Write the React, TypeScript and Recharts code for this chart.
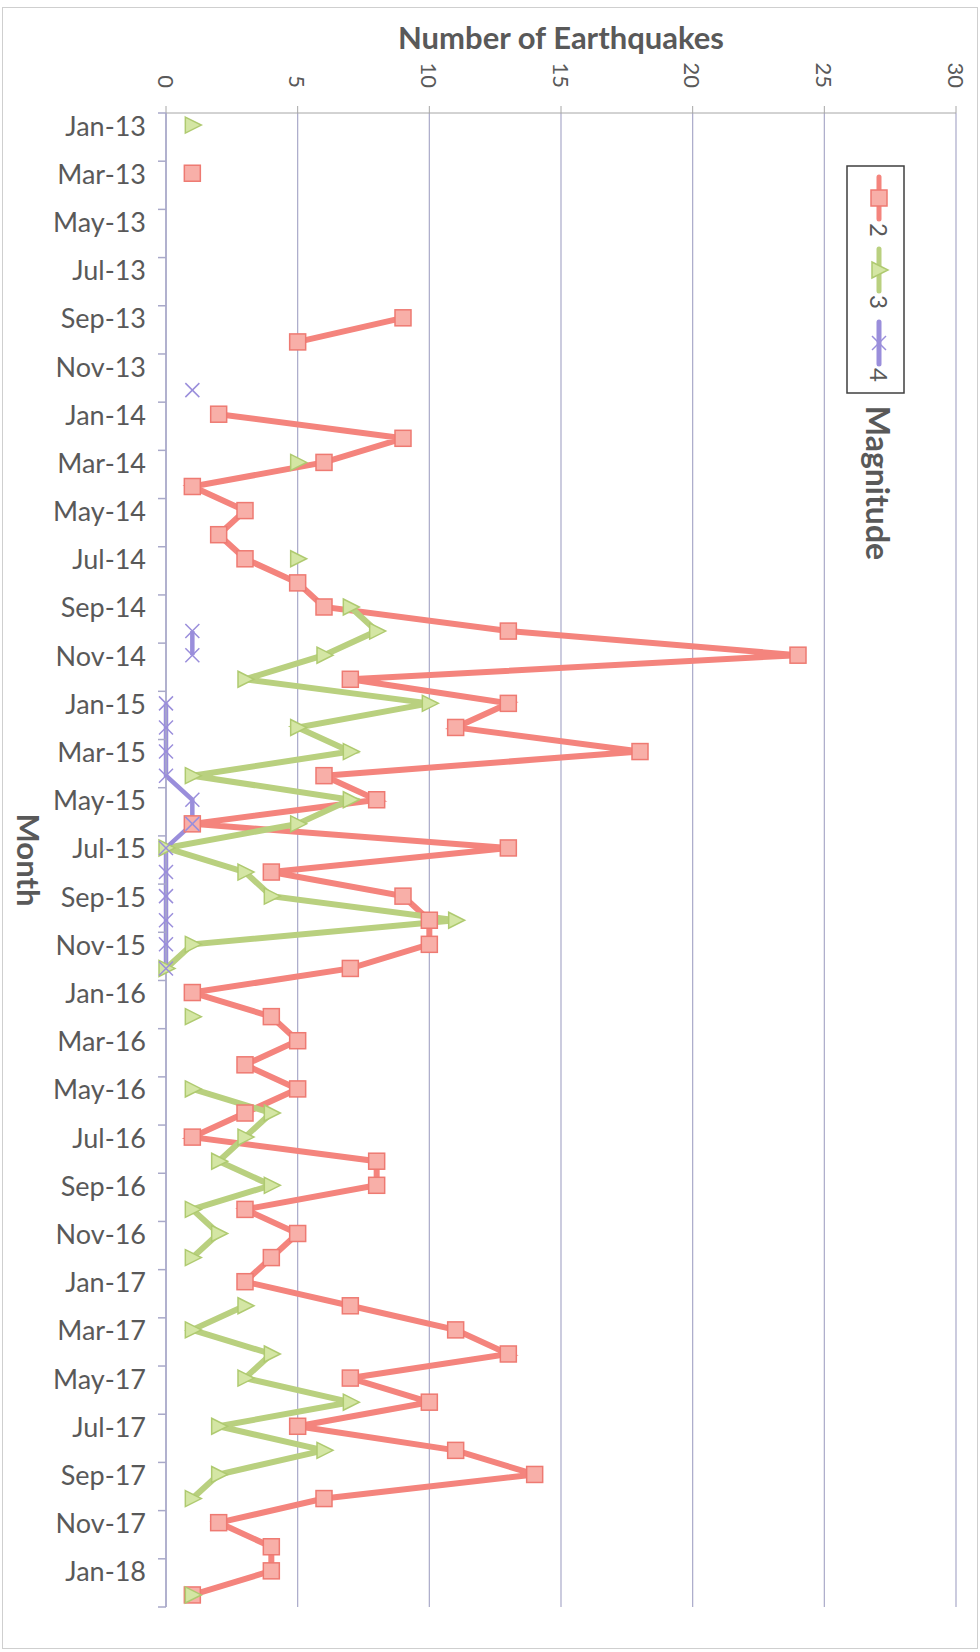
import { CartesianGrid, Legend, Line, LineChart, XAxis, YAxis } from "recharts";

const months = [
  "Jan-13", "Feb-13", "Mar-13", "Apr-13", "May-13", "Jun-13", "Jul-13", "Aug-13", "Sep-13", "Oct-13", "Nov-13", "Dec-13",
  "Jan-14", "Feb-14", "Mar-14", "Apr-14", "May-14", "Jun-14", "Jul-14", "Aug-14", "Sep-14", "Oct-14", "Nov-14", "Dec-14",
  "Jan-15", "Feb-15", "Mar-15", "Apr-15", "May-15", "Jun-15", "Jul-15", "Aug-15", "Sep-15", "Oct-15", "Nov-15", "Dec-15",
  "Jan-16", "Feb-16", "Mar-16", "Apr-16", "May-16", "Jun-16", "Jul-16", "Aug-16", "Sep-16", "Oct-16", "Nov-16", "Dec-16",
  "Jan-17", "Feb-17", "Mar-17", "Apr-17", "May-17", "Jun-17", "Jul-17", "Aug-17", "Sep-17", "Oct-17", "Nov-17", "Dec-17",
  "Jan-18", "Feb-18"
];

// magnitude 2
const mag2 = [
  null, null, 1, null, null, null, null, null, 9, 5, null, null,
  2, 9, 6, 1, 3, 2, 3, 5, 6, 13, 24, 7,
  13, 11, 18, 6, 8, 1, 13, 4, 9, 10, 10, 7,
  1, 4, 5, 3, 5, 3, 1, 8, 8, 3, 5, 4,
  3, 7, 11, 13, 7, 10, 5, 11, 14, 6, 2, 4,
  4, 1
];

// magnitude 3
const mag3 = [
  1, null, null, null, null, null, null, null, null, null, null, null,
  null, null, 5, null, null, null, 5, null, 7, 8, 6, 3,
  10, 5, 7, 1, 7, 5, 0, 3, 4, 11, 1, 0,
  null, 1, null, null, 1, 4, 3, 2, 4, 1, 2, 1,
  null, 3, 1, 4, 3, 7, 2, 6, 2, 1, null, null,
  null, 1
];

// magnitude 4
const mag4 = [
  null, null, null, null, null, null, null, null, null, null, null, 1,
  null, null, null, null, null, null, null, null, null, 1, 1, null,
  0, 0, 0, 0, 1, 1, 0, 0, 0, 0, 0, 0,
  null, null, null, null, null, null, null, null, null, null, null, null,
  null, null, null, null, null, null, null, null, null, null, null, null,
  null, null
];

const xTicks = [0, 5, 10, 15, 20, 25, 30];

const W = 980;
const H = 1652;
const MARGIN = { top: 63, right: 24, bottom: 45, left: 16 };
const X_AXIS_H = 50;
const Y_TICK_GAP = 20;
const BAND = (H - MARGIN.top - X_AXIS_H - MARGIN.bottom) / months.length;

const FONT = "Lato, 'Open Sans', sans-serif";
const TEXT = "#595959";
const GRID = "#A9A9C9";

const RED = "#F4847D";
const GREEN = "#B9D07F";
const PURPLE = "#9A8EDB";

function square(cx: number, cy: number, key?: string) {
  return <rect key={key} x={cx - 8} y={cy - 8} width={16} height={16} fill="#F8AFA8" stroke="#EE7A72" strokeWidth={1.5} />;
}

function triangle(cx: number, cy: number, key?: string) {
  return (
    <polygon
      key={key}
      points={`${cx - 7},${cy - 8} ${cx + 9},${cy} ${cx - 7},${cy + 8}`}
      fill="#D4E6A4"
      stroke="#AFCA70"
      strokeWidth={1.5}
    />
  );
}

function cross(cx: number, cy: number, key?: string) {
  return (
    <g key={key} stroke={PURPLE} strokeWidth={1.5}>
      <line x1={cx - 7} y1={cy - 7} x2={cx + 7} y2={cy + 7} />
      <line x1={cx - 7} y1={cy + 7} x2={cx + 7} y2={cy - 7} />
    </g>
  );
}

const series = [
  { id: "m2", name: "2", values: mag2, color: RED, width: 6, shape: square },
  { id: "m3", name: "3", values: mag3, color: GREEN, width: 6, shape: triangle },
  { id: "m4", name: "4", values: mag4, color: PURPLE, width: 4.5, shape: cross }
];

// vertical layout drops empty months, so every unbroken run gets its own line
function runsOf(values: (number | null)[]) {
  const runs: { start: number; end: number }[] = [];
  let cur: { start: number; end: number } | null = null;
  values.forEach((v, i) => {
    if (v == null) {
      cur = null;
    } else if (cur) {
      cur.end = i;
    } else {
      cur = { start: i, end: i };
      runs.push(cur);
    }
  });
  return runs;
}

const segments = series.flatMap((s) =>
  runsOf(s.values).map((r, k) => ({ ...s, key: `${s.id}_${k}`, start: r.start, end: r.end }))
);

const data = months.map((month, i) => {
  const row: Record<string, string | number | null> = { month };
  segments.forEach((seg) => {
    row[seg.key] = i >= seg.start && i <= seg.end ? seg.values[i] : null;
  });
  return row;
});

function makeDot(shape: (cx: number, cy: number, key?: string) => any, prefix: string) {
  return (props: any) => {
    const { cx, cy, value, index } = props;
    const key = `${prefix}${index}`;
    if (value == null || cx == null || cy == null) return <g key={key} />;
    return shape(cx, cy, key);
  };
}

function XTick(props: any) {
  const { x, y, payload } = props;
  return (
    <text
      x={x}
      y={y}
      transform={`rotate(90 ${x} ${y})`}
      textAnchor="end"
      dominantBaseline="central"
      fontFamily={FONT}
      fontSize={22}
      fill={TEXT}
    >
      {payload.value}
    </text>
  );
}

function YTick(props: any) {
  const { x, y, payload } = props;
  const axisX = x + Y_TICK_GAP;
  const top = y - BAND / 2;
  const isLast = payload.value === months[months.length - 2];
  return (
    <g>
      <line x1={axisX - 8} x2={axisX} y1={top} y2={top} stroke={GRID} strokeWidth={1.5} />
      {isLast && (
        <line x1={axisX - 8} x2={axisX} y1={top + BAND * 2} y2={top + BAND * 2} stroke={GRID} strokeWidth={1.5} />
      )}
      <text x={x} y={y} textAnchor="end" dominantBaseline="central" fontFamily={FONT} fontSize={27} fill={TEXT}>
        {payload.value}
      </text>
    </g>
  );
}

function TitleLabel(props: any) {
  const vb = props.viewBox;
  return (
    <text
      x={vb.x + vb.width / 2}
      y={vb.y - 26}
      textAnchor="middle"
      dominantBaseline="central"
      fontFamily={FONT}
      fontWeight={700}
      fontSize={31}
      fill={TEXT}
    >
      Number of Earthquakes
    </text>
  );
}

function MonthLabel(props: any) {
  const vb = props.viewBox;
  const cx = vb.x + 13;
  const cy = vb.y + vb.height / 2;
  return (
    <text
      x={cx}
      y={cy}
      transform={`rotate(90 ${cx} ${cy})`}
      textAnchor="middle"
      dominantBaseline="central"
      fontFamily={FONT}
      fontWeight={700}
      fontSize={31}
      fill={TEXT}
    >
      Month
    </text>
  );
}

const legendY = [33, 105, 178];

function MagnitudeLegend() {
  const cx = 33;
  return (
    <svg width={62} height={410}>
      <rect x={1} y={1} width={57} height={227} fill="#fff" stroke="#3F3F3F" strokeWidth={1.5} />
      {series.map((s, i) => (
        <g key={s.id}>
          <line x1={cx} x2={cx} y1={legendY[i] - 21} y2={legendY[i] + 21} stroke={s.color} strokeWidth={5} strokeLinecap="round" />
          {s.shape(cx, legendY[i])}
          <text
            x={cx}
            y={legendY[i] + 32}
            transform={`rotate(90 ${cx} ${legendY[i] + 32})`}
            textAnchor="middle"
            dominantBaseline="central"
            fontFamily={FONT}
            fontSize={24}
            fill={TEXT}
          >
            {s.name}
          </text>
        </g>
      ))}
      <text
        x={32}
        y={318}
        transform="rotate(90 32 318)"
        textAnchor="middle"
        dominantBaseline="central"
        fontFamily={FONT}
        fontWeight={700}
        fontSize={32}
        fill={TEXT}
      >
        Magnitude
      </text>
    </svg>
  );
}

export default function App() {
  return (
    <div style={{ position: "absolute", left: 0, top: 0, width: W, height: H, background: "#fff" }}>
      <div
        style={{
          position: "absolute",
          left: 2,
          top: 7,
          width: 974,
          height: 1640,
          border: "1px solid #CFCFCF"
        }}
      />
      <div style={{ position: "absolute", left: 0, top: 0 }}>
        <LineChart width={W} height={H} data={data} layout="vertical" margin={MARGIN}>
          <CartesianGrid horizontal={false} vertical={true} stroke={GRID} strokeWidth={1.2} />
          <XAxis
            type="number"
            orientation="top"
            domain={[0, 30]}
            ticks={xTicks}
            height={X_AXIS_H}
            stroke="#A6A6A6"
            tickSize={7}
            tickMargin={18}
            tick={<XTick />}
            label={{ content: TitleLabel }}
          />
          <YAxis
            type="category"
            dataKey="month"
            width={150}
            interval={1}
            padding={{ top: BAND / 2, bottom: BAND / 2 }}
            stroke={GRID}
            strokeWidth={1.5}
            tickLine={false}
            tickSize={0}
            tickMargin={Y_TICK_GAP}
            tick={<YTick />}
            label={{ content: MonthLabel }}
          />
          {segments.map((seg) => (
            <Line
              key={seg.key}
              dataKey={seg.key}
              name={seg.name}
              type="linear"
              stroke={seg.color}
              strokeWidth={seg.width}
              dot={makeDot(seg.shape, seg.key)}
              activeDot={false}
              legendType="none"
              isAnimationActive={false}
            />
          ))}
          <Legend
            layout="vertical"
            align="center"
            verticalAlign="middle"
            content={<MagnitudeLegend />}
            wrapperStyle={{ position: "absolute", left: 846, top: 165, width: 62, height: 410 }}
          />
        </LineChart>
      </div>
    </div>
  );
}
